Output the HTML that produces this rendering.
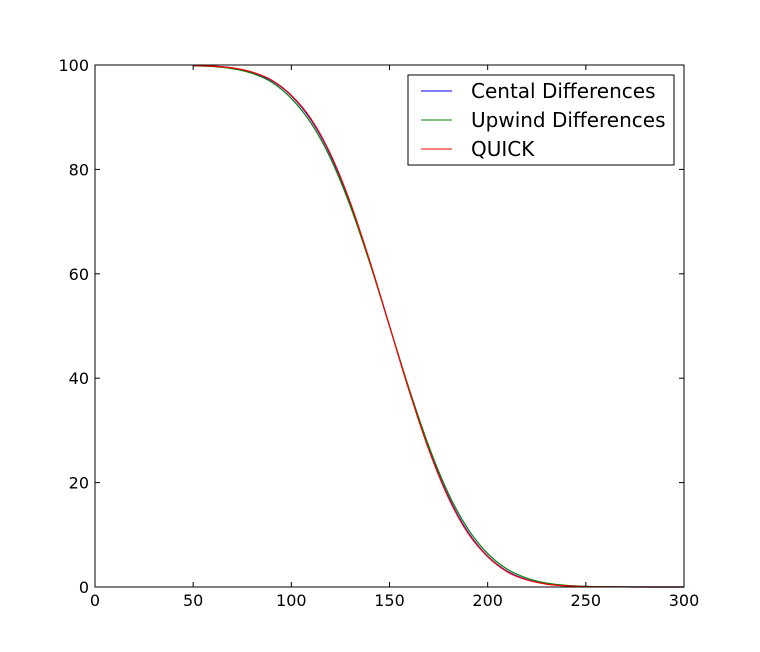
<!DOCTYPE html>
<html>
<head>
<meta charset="utf-8">
<style>
  html, body {
    margin: 0;
    padding: 0;
    background: #fff;
  }
  svg {
    display: block;
    font-family: "DejaVu Sans", "Liberation Sans", sans-serif;
  }
</style>
</head>
<body>
<svg id="chart" width="760" height="652"></svg>
<script>
// Chart data
const xs = [50, 60, 70, 80, 90, 100, 110, 120, 130, 140, 150, 160, 170, 180, 190, 200, 210, 220, 230, 240, 250, 260, 270, 280, 290, 300];
const centralVals = [99.9, 99.77, 99.42, 98.6, 97.0, 94.1, 89.5, 82.7, 73.5, 62.3, 50, 37.7, 26.5, 17.3, 10.5, 5.9, 3.0, 1.4, 0.58, 0.23, 0.09, 0.03, 0.01, 0, 0, 0];
const upwindVals = [99.85, 99.7, 99.3, 98.4, 96.7, 93.6, 88.9, 82.1, 73.0, 62.0, 50, 38.0, 27.0, 17.9, 11.1, 6.4, 3.4, 1.7, 0.75, 0.32, 0.13, 0.05, 0.02, 0.01, 0, 0];
const quickVals = [99.9, 99.78, 99.45, 98.65, 97.1, 94.2, 89.7, 82.9, 73.7, 62.4, 50, 37.6, 26.3, 17.1, 10.3, 5.8, 2.9, 1.35, 0.55, 0.21, 0.08, 0.03, 0.01, 0, 0, 0];
const xTicks = [0, 50, 100, 150, 200, 250, 300];
const yTicks = [0, 20, 40, 60, 80, 100];
const seriesNames = ["Cental Differences", "Upwind Differences", "QUICK"];
const seriesColors = ["#0000ff", "#008000", "#ff0000"];

const NS = "http://www.w3.org/2000/svg";
const svg = document.getElementById("chart");

// Plot area
const L = 95, R = 684, T = 65, B = 587;
const sx = v => L + (v - 0) / 300 * (R - L);
const sy = v => B - (v - 0) / 100 * (B - T);

function mk(tag, attrs, parent) {
  const e = document.createElementNS(NS, tag);
  for (const k in attrs) e.setAttribute(k, attrs[k]);
  (parent || svg).appendChild(e);
  return e;
}

// Smooth path through points (Catmull-Rom -> cubic Bezier)
function smoothPath(pts) {
  let d = "M" + pts[0][0].toFixed(2) + "," + pts[0][1].toFixed(2);
  for (let i = 0; i < pts.length - 1; i++) {
    const p0 = pts[Math.max(i - 1, 0)], p1 = pts[i], p2 = pts[i + 1], p3 = pts[Math.min(i + 2, pts.length - 1)];
    const c1x = p1[0] + (p2[0] - p0[0]) / 6, c1y = p1[1] + (p2[1] - p0[1]) / 6;
    const c2x = p2[0] - (p3[0] - p1[0]) / 6, c2y = p2[1] - (p3[1] - p1[1]) / 6;
    d += " C" + c1x.toFixed(2) + "," + c1y.toFixed(2) + " " + c2x.toFixed(2) + "," + c2y.toFixed(2) + " " + p2[0].toFixed(2) + "," + p2[1].toFixed(2);
  }
  return d;
}

// Data lines
const seriesData = [centralVals, upwindVals, quickVals];
seriesData.forEach((vals, i) => {
  const pts = xs.map((x, j) => [sx(x), sy(vals[j])]);
  const p = mk("path", { d: smoothPath(pts), fill: "none", stroke: seriesColors[i], "stroke-width": 1.2 });
  
  
});

// Plot frame
const frame = mk("rect", { x: L, y: T, width: R - L, height: B - T, fill: "none", stroke: "#000", "stroke-width": 1 });



// X-axis ticks and labels
xTicks.forEach(t => {
  const x = sx(t);
  mk("line", { x1: x, y1: B, x2: x, y2: B - 5, stroke: "#000" });
  mk("line", { x1: x, y1: T, x2: x, y2: T + 5, stroke: "#000" });
  const tx = mk("text", { x: x, y: B + 19, "text-anchor": "middle", "font-size": 16 });
  tx.textContent = t;
  
  
});

// Y-axis ticks and labels
yTicks.forEach(t => {
  const y = sy(t);
  mk("line", { x1: L, y1: y, x2: L + 5, y2: y, stroke: "#000" });
  mk("line", { x1: R, y1: y, x2: R - 5, y2: y, stroke: "#000" });
  const tx = mk("text", { x: L - 6, y: y + 6, "text-anchor": "end", "font-size": 16 });
  tx.textContent = t;
  
  
});

// Legend
const lg = mk("g", {});


mk("rect", { x: 408, y: 75, width: 266, height: 90, fill: "#fff", stroke: "#000" }, lg);
seriesNames.forEach((n, i) => {
  const y = 91 + i * 29;
  mk("line", { x1: 421, y1: y, x2: 452, y2: y, stroke: seriesColors[i] }, lg);
  const tx = mk("text", { x: 471, y: y + 7, "font-size": 20 }, lg);
  tx.textContent = n;
  
  
});
</script>
</body>
</html>
